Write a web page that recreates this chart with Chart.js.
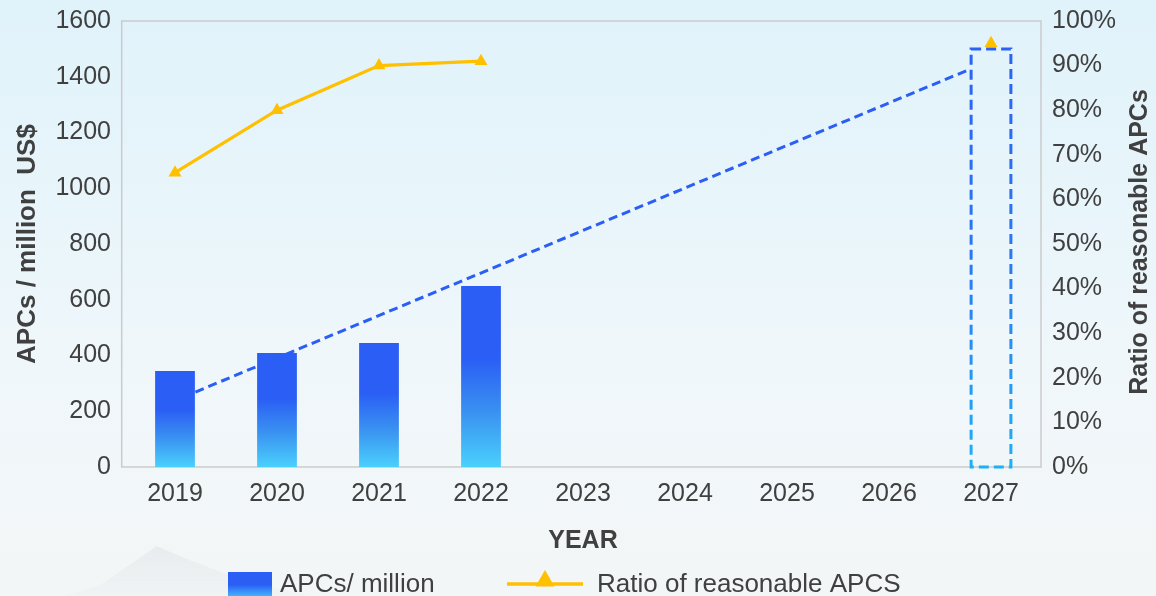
<!DOCTYPE html>
<html>
<head>
<meta charset="utf-8">
<script src="https://cdn.jsdelivr.net/npm/chart.js@4/dist/chart.umd.min.js"></script>
<style>
  html, body { margin: 0; padding: 0; }
  body {
    width: 1156px; height: 596px; overflow: hidden; position: relative;
    background: linear-gradient(to bottom, #e0f2fa 0%, #e7f5fa 30%, #f0f7fa 62%, #f3f6f7 100%);
  }
  .ridge {
    position: absolute; left: 50px; top: 540px; width: 280px; height: 60px;
    background: linear-gradient(to bottom, rgba(205,210,215,0.3), rgba(230,233,236,0.12));
    clip-path: polygon(0% 100%, 18% 75%, 32% 30%, 38% 10%, 48% 30%, 62% 55%, 80% 80%, 100% 100%);
    filter: blur(4px);
  }
  #wrap { position: absolute; left: 0; top: 0; width: 1156px; height: 596px; }
</style>
</head>
<body>
<div class="ridge"></div>
<div id="wrap"><canvas id="chart" width="1156" height="596"></canvas></div>
<script>
// Years on the category axis
const years = ['2019', '2020', '2021', '2022', '2023', '2024', '2025', '2026', '2027'];
// APCs market size, million US$
const apcsMillion = [344, 409, 445, 649, null, null, null, null, null];
// Projected 2027 market size (outlined bar)
const apcsTarget = [null, null, null, null, null, null, null, null, 1500];
// Ratio of reasonable APCs, percent
const ratioPercent = [66, 80, 90, 91, null, null, null, null, 95];
// Growth trend line: category position (index units) and value in million US$
const trendPos = [0.2, 7.8];
const trendValue = [269, 1428];

const leftTicks = [0, 200, 400, 600, 800, 1000, 1200, 1400, 1600];
const rightTicks = [0, 10, 20, 30, 40, 50, 60, 70, 80, 90, 100];

const BLUE = '#2a5ef5';
const CYAN = '#4ad0fc';
const GOLD = '#ffc000';
const TEXT = '#404040';
const FONT = "'Liberation Sans', Arial, sans-serif";

function barGradient(ctx) {
  const chart = ctx.chart;
  const {chartArea, scales} = chart;
  if (!chartArea) return BLUE;
  const v = ctx.raw;
  if (v == null) return BLUE;
  const yTop = scales.y.getPixelForValue(v);
  const yBase = scales.y.getPixelForValue(0);
  const g = chart.ctx.createLinearGradient(0, yBase, 0, yTop);
  g.addColorStop(0, CYAN);
  g.addColorStop(0.3, '#3a92f1');
  g.addColorStop(0.6, BLUE);
  g.addColorStop(1, BLUE);
  return g;
}

// keep the value axes from reserving extra room above/below the plot
function trimVerticalPadding(s) {
  s.paddingTop = 8;
  s.paddingBottom = 8;
}

// Plot frame, dashed target outline, right-hand title and legend
const decorations = {
  id: 'decorations',
  beforeDatasetsDraw(chart) {
    const {ctx, chartArea: a} = chart;
    ctx.save();
    ctx.strokeStyle = '#cbcbcb';
    ctx.lineWidth = 1.5;
    ctx.strokeRect(a.left - 2.3, a.top, a.right - a.left + 1.3, a.bottom - a.top);
    ctx.restore();
  },
  afterDatasetsDraw(chart) {
    const {ctx} = chart;
    const meta = chart.getDatasetMeta(1);
    meta.data.forEach((el, i) => {
      if (apcsTarget[i] == null) return;
      const p = el.getProps(['x', 'y', 'base', 'width'], true);
      const g = ctx.createLinearGradient(0, p.y, 0, p.base);
      g.addColorStop(0, '#2a62f5');
      g.addColorStop(0.5, '#2a78f5');
      g.addColorStop(1, '#1db0f7');
      ctx.save();
      ctx.strokeStyle = g;
      ctx.lineWidth = 3;
      ctx.setLineDash([10, 5]);
      ctx.strokeRect(p.x - p.width / 2, p.y, p.width, p.base - p.y);
      ctx.restore();
    });
  },
  afterDraw(chart) {
    const {ctx} = chart;
    ctx.save();
    // right-hand axis title, reading bottom to top
    ctx.translate(1140, 242);
    ctx.rotate(-Math.PI / 2);
    ctx.fillStyle = TEXT;
    ctx.font = 'bold 25px ' + FONT;
    ctx.textAlign = 'center';
    ctx.textBaseline = 'middle';
    ctx.fillText('Ratio of reasonable APCs', 0, 0);
    ctx.restore();

    // legend
    ctx.save();
    const g = ctx.createLinearGradient(0, 572, 0, 600);
    g.addColorStop(0, BLUE);
    g.addColorStop(0.45, BLUE);
    g.addColorStop(1, CYAN);
    ctx.fillStyle = g;
    ctx.fillRect(228, 572, 44, 28);
    ctx.font = '26px ' + FONT;
    ctx.fillStyle = TEXT;
    ctx.textBaseline = 'middle';
    ctx.textAlign = 'left';
    ctx.fillText('APCs/ million', 280, 585);
    ctx.strokeStyle = GOLD;
    ctx.lineWidth = 3.5;
    ctx.beginPath();
    ctx.moveTo(507, 584);
    ctx.lineTo(583, 584);
    ctx.stroke();
    ctx.fillStyle = GOLD;
    const r = 11, cx = 545, cy = 581;
    ctx.beginPath();
    ctx.moveTo(cx, cy - r);
    ctx.lineTo(cx + r * Math.sin(2 * Math.PI / 3), cy - r * Math.cos(2 * Math.PI / 3));
    ctx.lineTo(cx + r * Math.sin(4 * Math.PI / 3), cy - r * Math.cos(4 * Math.PI / 3));
    ctx.closePath();
    ctx.fill();
    ctx.fillStyle = TEXT;
    ctx.fillText('Ratio of reasonable APCS', 597, 585);
    ctx.restore();
  }
};

new Chart(document.getElementById('chart'), {
  type: 'bar',
  data: {
    labels: years,
    datasets: [
      {
        type: 'bar',
        label: 'APCs/ million',
        data: apcsMillion,
        yAxisID: 'y',
        xAxisID: 'x',
        backgroundColor: barGradient,
        borderWidth: 0,
        grouped: false,
        categoryPercentage: 1,
        barPercentage: 0.39,
        order: 3
      },
      {
        type: 'bar',
        label: 'Target 2027',
        data: apcsTarget,
        yAxisID: 'y',
        xAxisID: 'x',
        backgroundColor: 'rgba(0,0,0,0)',
        borderWidth: 0,
        grouped: false,
        categoryPercentage: 1,
        barPercentage: 0.39,
        order: 3
      },
      {
        type: 'line',
        label: 'Trend',
        data: trendPos.map((p, i) => ({x: p, y: trendValue[i]})),
        xAxisID: 'xTrend',
        yAxisID: 'y',
        borderColor: BLUE,
        borderWidth: 3,
        borderDash: [9, 5],
        pointRadius: 0,
        fill: false,
        order: 1
      },
      {
        type: 'line',
        label: 'Ratio of reasonable APCS',
        data: ratioPercent,
        xAxisID: 'x',
        yAxisID: 'y1',
        borderColor: GOLD,
        borderWidth: 3.2,
        pointStyle: 'triangle',
        pointRadius: 7.5,
        pointBackgroundColor: GOLD,
        pointBorderColor: GOLD,
        pointBorderWidth: 0,
        spanGaps: false,
        tension: 0,
        fill: false,
        order: 0
      }
    ]
  },
  options: {
    responsive: false,
    animation: false,
    layout: { padding: { top: 21, left: 0, right: 0, bottom: 0 } },
    plugins: { legend: { display: false }, tooltip: { enabled: false } },
    scales: {
      x: {
        type: 'category',
        offset: true,
        grid: { display: false, drawTicks: false },
        border: { display: false },
        ticks: { color: TEXT, font: { family: FONT, size: 25 }, padding: 12, maxRotation: 0 },
        title: { display: true, text: 'YEAR', color: TEXT, font: { family: FONT, size: 25, weight: 'bold' }, padding: { top: 0, bottom: 40 } },
        afterFit(s) { s.height = 129; }
      },
      xTrend: {
        type: 'linear',
        display: false,
        offset: false,
        grid: { offset: false },
        min: -0.5,
        max: years.length - 0.5
      },
      y: {
        position: 'left',
        min: leftTicks[0],
        max: leftTicks[leftTicks.length - 1],
        afterBuildTicks(s) { s.ticks = leftTicks.map(v => ({value: v})); },
        grid: { display: false, drawTicks: false },
        border: { display: false },
        ticks: { color: TEXT, font: { family: FONT, size: 25 }, padding: 13, callback: v => String(v) },
        title: { display: true, text: 'APCs / million  US$', color: TEXT, font: { family: FONT, size: 26, weight: 'bold' }, padding: { top: 12, bottom: 0 } },
        afterFit(s) { s.width = 124; trimVerticalPadding(s); }
      },
      y1: {
        position: 'right',
        min: rightTicks[0],
        max: rightTicks[rightTicks.length - 1],
        afterBuildTicks(s) { s.ticks = rightTicks.map(v => ({value: v})); },
        grid: { display: false, drawTicks: false },
        border: { display: false },
        ticks: { color: TEXT, font: { family: FONT, size: 25 }, padding: 10, callback: v => v + '%' },
        afterFit(s) { s.width = 114; trimVerticalPadding(s); }
      }
    }
  },
  plugins: [decorations]
});
</script>
</body>
</html>
